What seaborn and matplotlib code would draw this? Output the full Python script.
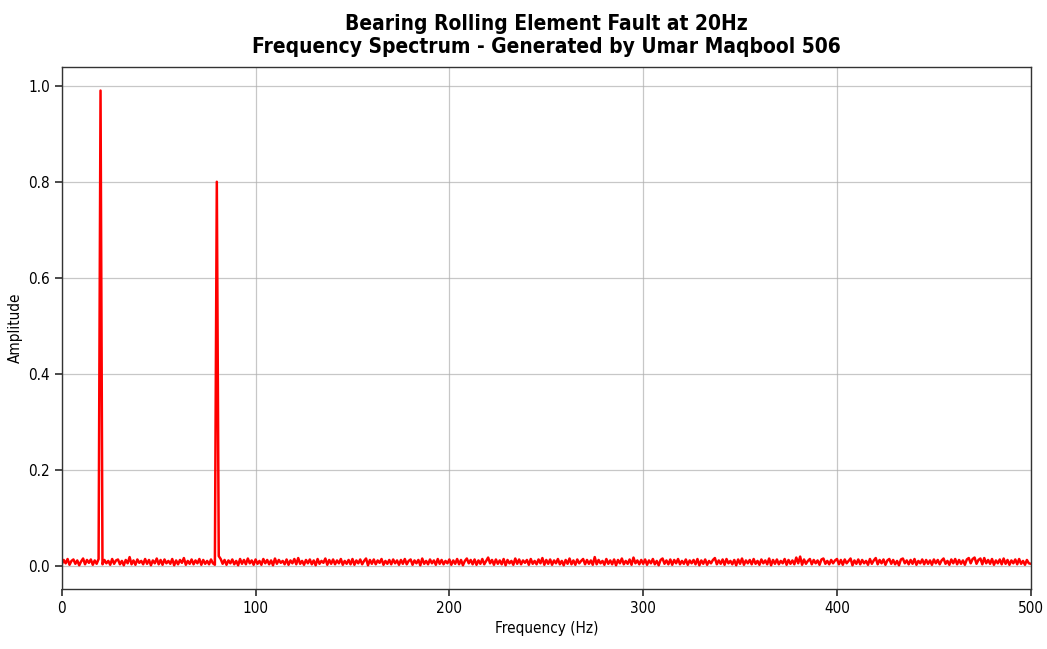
import numpy as np
import pandas as pd
import matplotlib
matplotlib.use("Agg")
import matplotlib.pyplot as plt
import seaborn as sns

# Spectrum sampled on a 1 Hz grid from 0 to 500 Hz
freq_start_hz = 0
freq_stop_hz = 500

# Broadband noise floor, in units of 1e-3 (one value per Hz)
noise_floor_milli = [
    3, 12, 5, 14, 2, 10, 13, 4, 11, 1, 9, 15, 3, 12, 6, 13, 2, 11, 4, 14, 8, 3, 12, 5, 10,
    2, 14, 4, 11, 13, 3, 10, 1, 12, 5, 18, 3, 11, 2, 13, 6, 10, 3, 14, 4, 12, 1, 11, 5, 15,
    3, 12, 2, 13, 5, 10, 4, 14, 1, 11, 3, 12, 6, 16, 2, 10, 4, 13, 3, 11, 5, 14, 2, 12, 4,
    10, 3, 13, 5, 2, 9, 20, 14, 4, 12, 2, 11, 5, 13, 3, 10, 1, 14, 4, 12, 3, 15, 5, 11, 2,
    13, 4, 10, 2, 14, 5, 12, 3, 11, 1, 15, 4, 12, 6, 10, 3, 13, 2, 11, 5, 14, 3, 16, 4, 10,
    2, 12, 5, 13, 3, 11, 1, 14, 4, 10, 6, 15, 2, 12, 4, 13, 3, 11, 5, 14, 2, 10, 4, 12, 3,
    14, 2, 11, 5, 13, 3, 10, 15, 1, 12, 4, 13, 3, 11, 6, 14, 2, 10, 4, 12, 3, 13, 5, 11, 2,
    12, 4, 14, 3, 10, 13, 2, 11, 5, 12, 1, 15, 4, 10, 3, 13, 5, 11, 2, 14, 4, 12, 3, 10, 5,
    13, 2, 11, 4, 14, 3, 12, 1, 10, 15, 5, 12, 3, 13, 2, 11, 4, 14, 3, 10, 17, 5, 12, 2, 13,
    4, 11, 3, 14, 1, 12, 5, 10, 2, 15, 4, 13, 3, 11, 6, 12, 2, 14, 4, 10, 3, 13, 5, 16, 2,
    12, 4, 13, 2, 11, 5, 14, 3, 10, 1, 12, 4, 15, 3, 11, 2, 13, 5, 10, 14, 3, 12, 4, 11, 2,
    18, 3, 12, 5, 10, 2, 14, 4, 11, 3, 13, 1, 12, 5, 15, 3, 10, 4, 13, 2, 17, 5, 11, 3, 12,
    4, 13, 2, 11, 5, 14, 3, 10, 1, 12, 15, 4, 11, 3, 13, 2, 12, 5, 14, 3, 10, 4, 13, 2, 11,
    5, 12, 3, 14, 1, 11, 4, 13, 2, 10, 5, 12, 16, 3, 11, 4, 13, 2, 14, 5, 10, 3, 12, 1, 13,
    4, 15, 2, 11, 5, 12, 3, 14, 4, 10, 2, 13, 5, 11, 3, 15, 1, 12, 4, 13, 3, 10, 5, 14, 2,
    12, 4, 11, 3, 17, 5, 19, 2, 13, 4, 10, 14, 3, 12, 5, 11, 2, 13, 15, 4, 10, 3, 12, 5, 11,
    14, 3, 12, 2, 13, 5, 10, 15, 1, 11, 4, 13, 3, 12, 5, 10, 2, 14, 4, 11, 16, 3, 12, 5, 13,
    2, 11, 14, 4, 12, 3, 10, 1, 13, 15, 5, 11, 3, 12, 4, 14, 2, 10, 5, 13, 3, 12, 4, 11, 2,
    13, 5, 12, 3, 11, 15, 4, 10, 2, 13, 5, 14, 3, 12, 4, 11, 2, 13, 16, 5, 14, 17, 4, 12, 15,
    3, 16, 5, 12, 4, 14, 2, 11, 5, 13, 3, 15, 4, 12, 2, 11, 5, 13, 3, 14, 4, 10, 2, 12, 5,
    4,
]

# Fault tones: fundamental and its 4th harmonic
peak_freqs_hz = [20, 80]
peak_amplitudes = [0.99, 0.80]

freqs = np.arange(freq_start_hz, freq_stop_hz + 1)
amplitude = np.array(noise_floor_milli, dtype=float) / 1000.0
for f, a in zip(peak_freqs_hz, peak_amplitudes):
    amplitude[freqs == f] = a

spectrum = pd.DataFrame({"Frequency (Hz)": freqs, "Amplitude": amplitude})

sns.set_theme(style="ticks")
plt.rcParams["font.family"] = ["DejaVu Sans"]
plt.rcParams["font.stretch"] = "condensed"
plt.rcParams["text.color"] = "black"
plt.rcParams["axes.labelcolor"] = "black"
plt.rcParams["xtick.color"] = "black"
plt.rcParams["ytick.color"] = "black"

fig = plt.figure(figsize=(10.47, 6.49), dpi=100)
ax = fig.add_axes([0.059, 0.0925, 0.9255, 0.8045])

sns.lineplot(data=spectrum, x="Frequency (Hz)", y="Amplitude",
             color="red", linewidth=1.8, ax=ax)

ax.set_xlim(0, 500)
ax.grid(True, color="#b0b0b0", linewidth=0.9, alpha=0.7)
for side in ax.spines.values():
    side.set_color("#333333")
    side.set_linewidth(1.0)
ax.tick_params(axis="both", labelsize=11, length=5, color="#333333")
ax.set_xlabel("Frequency (Hz)", fontsize=11)
ax.set_ylabel("Amplitude", fontsize=11)
ax.set_title("Bearing Rolling Element Fault at 20Hz\n"
             "Frequency Spectrum - Generated by Umar Maqbool 506",
             fontsize=15, fontweight="bold", color="black", pad=10)

fig.savefig("out.png", dpi=100)
